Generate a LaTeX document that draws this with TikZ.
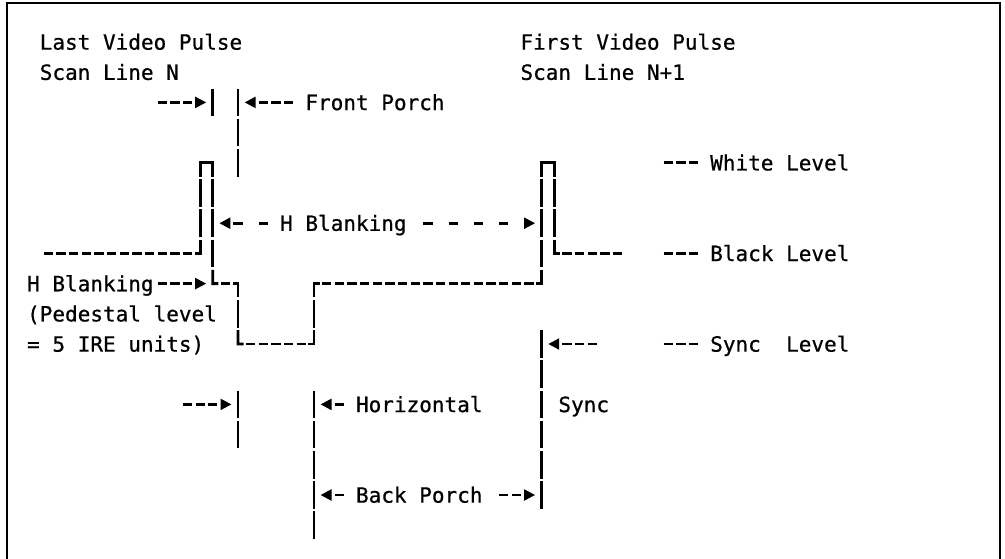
\documentclass[tikz,border=0pt]{standalone}
\usepackage{fontspec}
\newfontfamily\lblfont[FakeBold=0.7]{DejaVu Sans Mono}
\def\XO{42}\def\CW{12.65}\def\YO{42}\def\RH{30.2}\def\HC{13.8}
% grid helpers: column #1, row #2
\newcommand\hy[2]{\draw[stroke] ({\XO+\CW*(#1)+1.7},{\YO+\RH*(#2)}) -- ++(9.3,0);}
\newcommand\vb[2]{\draw[stroke] ({\XO+\CW*(#1+0.5)},{\YO+\RH*(#2)-\HC}) -- ++(0,{2*\HC});}
\newcommand\cLU[2]{\draw[stroke] ({\XO+\CW*(#1)+0.8},{\YO+\RH*(#2)}) -- ({\XO+\CW*(#1+0.5)},{\YO+\RH*(#2)}) -- ++(0,-\HC);}
\newcommand\cRU[2]{\draw[stroke] ({\XO+\CW*(#1+0.5)},{\YO+\RH*(#2)-\HC}) -- ++(0,\HC) -- ({\XO+\CW*(#1+1)-0.8},{\YO+\RH*(#2)});}
\newcommand\cLD[2]{\draw[stroke] ({\XO+\CW*(#1)+0.8},{\YO+\RH*(#2)}) -- ({\XO+\CW*(#1+0.5)},{\YO+\RH*(#2)}) -- ++(0,\HC);}
\newcommand\cRD[2]{\draw[stroke] ({\XO+\CW*(#1+1)-0.8},{\YO+\RH*(#2)}) -- ({\XO+\CW*(#1+0.5)},{\YO+\RH*(#2)}) -- ++(0,\HC);}
\newcommand\pulsetop[2]{\draw[stroke] ({\XO+\CW*(#1+0.5)},{\YO+\RH*(#2)+\HC}) -- ++(0,-\HC) -- ++(\CW,0) -- ++(0,\HC);}
\newcommand\rt[2]{\fill ({\XO+\CW*(#1)+1.4},{\YO+\RH*(#2)-5.8}) -- ({\XO+\CW*(#1+1)-0.4},{\YO+\RH*(#2)}) -- ({\XO+\CW*(#1)+1.4},{\YO+\RH*(#2)+5.8}) -- cycle;}
\newcommand\lt[2]{\fill ({\XO+\CW*(#1)+11.2},{\YO+\RH*(#2)-5.8}) -- ({\XO+\CW*(#1)+0.4},{\YO+\RH*(#2)}) -- ({\XO+\CW*(#1)+11.2},{\YO+\RH*(#2)+5.8}) -- cycle;}
\newcommand\tx[3]{\node[lbl] (t#2c#1) at ({\XO+\CW*(#1)-2.5},{\YO+\RH*(#2)+7.65}) {#3};}
\begin{document}
\begin{tikzpicture}[x=0.75pt,y=-0.75pt,
  stroke/.style={line width=2.1pt,line cap=butt,line join=miter},
  lbl/.style={anchor=base west,inner sep=0pt,font=\lblfont\fontsize{15.76pt}{18pt}\selectfont},
  frame/.style={line width=1.3pt}]
\useasboundingbox (0,0) rectangle (1005,558);
\draw[frame] (7,560) -- (7,3) -- (1000,3) -- (1000,560);
% row 0-1
\tx{0}{0}{Last Video Pulse}
\tx{38}{0}{First Video Pulse}
\tx{0}{1}{Scan Line N}
\tx{38}{1}{Scan Line N+1}
% row 2
\foreach \c in {9,10,11} {\hy{\c}{2}}
\rt{12}{2}\vb{13}{2}\vb{15}{2}\lt{16}{2}
\foreach \c in {17,18,19} {\hy{\c}{2}}
\tx{21}{2}{Front Porch}
% row 3
\vb{15}{3}
% row 4
\vb{15}{4}\pulsetop{12}{4}\pulsetop{39}{4}
\foreach \c in {49,50,51} {\hy{\c}{4}}
\tx{53}{4}{White Level}
% row 5
\vb{12}{5}\vb{13}{5}\vb{39}{5}\vb{40}{5}
% row 6
\vb{12}{6}\vb{13}{6}\lt{14}{6}\hy{15}{6}\hy{17}{6}
\tx{19}{6}{H Blanking}
\foreach \c in {30,32,34,36} {\hy{\c}{6}}
\rt{38}{6}\vb{39}{6}\vb{40}{6}
% row 7
\foreach \c in {0,...,11} {\hy{\c}{7}}
\cLU{12}{7}\vb{13}{7}\vb{39}{7}\cRU{40}{7}
\foreach \c in {41,...,45} {\hy{\c}{7}}
\foreach \c in {49,50,51} {\hy{\c}{7}}
\tx{53}{7}{Black Level}
% row 8
\tx{-1}{8}{H Blanking}
\foreach \c in {9,10,11} {\hy{\c}{8}}
\rt{12}{8}\cRU{13}{8}\hy{14}{8}\cLD{15}{8}\cRD{21}{8}
\foreach \c in {22,...,38} {\hy{\c}{8}}
\cLU{39}{8}
% row 9
\tx{-1}{9}{(Pedestal level}
\vb{15}{9}\vb{21}{9}
% row 10
\tx{-1}{10}{= 5 IRE units)}
\cRU{15}{10}
\foreach \c in {16,...,20} {\hy{\c}{10}}
\cLU{21}{10}
\vb{39}{10}\lt{40}{10}
\foreach \c in {41,42,43} {\hy{\c}{10}}
\foreach \c in {49,50,51} {\hy{\c}{10}}
\tx{53}{10}{Sync}
\tx{59}{10}{Level}
% row 11
\vb{39}{11}
% row 12
\foreach \c in {11,12,13} {\hy{\c}{12}}
\rt{14}{12}\vb{15}{12}\vb{21}{12}\lt{22}{12}\hy{23}{12}
\tx{25}{12}{Horizontal}
\vb{39}{12}
\tx{41}{12}{Sync}
% row 13
\vb{15}{13}\vb{21}{13}\vb{39}{13}
% row 14
\vb{21}{14}\vb{39}{14}
% row 15
\vb{21}{15}\lt{22}{15}\hy{23}{15}
\tx{25}{15}{Back Porch}
\hy{36}{15}\hy{37}{15}\rt{38}{15}\vb{39}{15}
% row 16
\vb{21}{16}
\end{tikzpicture}
\end{document}
